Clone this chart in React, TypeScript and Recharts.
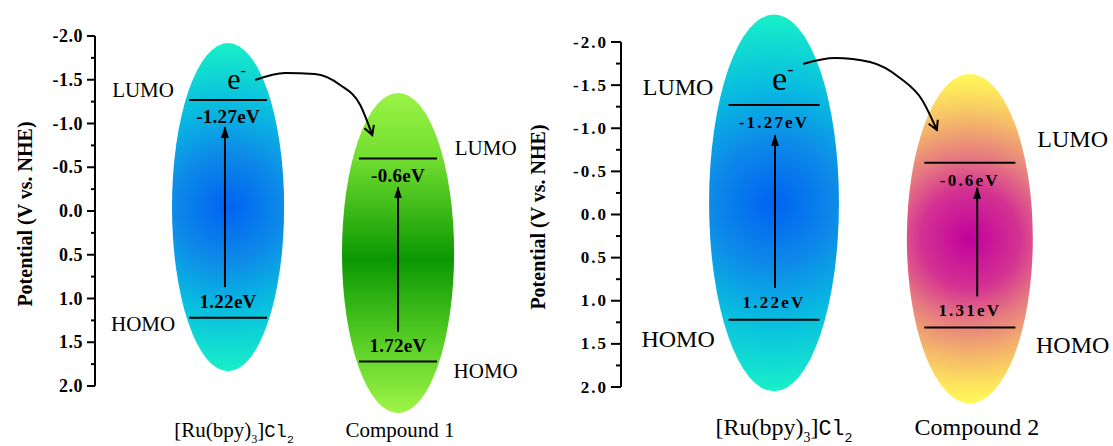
import React from 'react'
import { ComposedChart, XAxis, YAxis, Line, ReferenceArea, ReferenceLine, ReferenceDot } from 'recharts'

const serif = '"Liberation Serif", "Times New Roman", serif'
const mono = '"Liberation Mono", "Courier New", monospace'

// ---- data ----
const yTicks = [-2, -1.75, -1.5, -1.25, -1, -0.75, -0.5, -0.25, 0, 0.25, 0.5, 0.75, 1, 1.25, 1.5, 1.75, 2]
const yLabel = 'Potential (V vs. NHE)'
const levelNames = ['LUMO', 'HOMO']

const leftNames = ['[Ru(bpy)3]Cl2', 'Compound 1']
const leftLumo = [-1.27, -0.6]
const leftHomo = [1.22, 1.72]

const rightNames = ['[Ru(bpy)3]Cl2', 'Compound 2']
const rightLumo = [-1.27, -0.6]
const rightHomo = [1.22, 1.31]

// electron transfer path (x in % of plot width, y in V)
const leftCurveX = [36.0, 42.7, 49.4, 55.1, 59.6, 62.3]
const leftCurveY = [-1.497, -1.577, -1.566, -1.44, -1.211, -0.869]
const rightCurveX = [37.0, 43.5, 50.6, 56.7, 61.2, 64.2]
const rightCurveY = [-1.745, -1.814, -1.768, -1.583, -1.328, -0.98]

const gradients: Record<string, { kind: string; stops: [number, string][] }> = {
  ru: { kind: 'radial', stops: [[0, '#0062f2'], [0.33, '#0d8ae8'], [0.62, '#08bce0'], [1, '#18f0c8']] },
  c1: { kind: 'linear', stops: [[0, '#9af446'], [0.2, '#72de30'], [0.52, '#0b9802'], [0.8, '#5ed228'], [1, '#a0f448']] },
  c2: { kind: 'radial', stops: [[0, '#c2009c'], [0.3, '#d43292'], [0.5, '#e67a80'], [0.72, '#f5b86a'], [0.9, '#fde65c'], [1, '#fff95a']] },
}

const leftCfg = {
  id: 'L', left: 0, width: 540, top: 36, bottom: 60, axisWidth: 95,
  names: leftNames, lumo: leftLumo, homo: leftHomo, curveX: leftCurveX, curveY: leftCurveY,
  grads: ['ru', 'c1'],
  cx: [29.9, 68.1], halfW: [12.6, 12.6], blobTop: [-1.92, -1.35], blobBottom: [1.83, 2.31], levelHalf: 8.76,
  arrowX: [29.2, 68.1], gapBottom: [0.35, 0.34], gapTop: [0.31, 0.33],
  sideX: [10.8, 87.8], lumoDy: [-10, -10.5], homoDy: [6, 9.5],
  tickFont: 18, tickSpacing: 0.5, majorLen: 8, minorLen: 4, tickGap: 4,
  sideFont: 21, evFont: 19, evSpacing: 0.3, evLumoDy: 17, evHomoDy: -16,
  nameFont: 21, nameDy: 51, nameDx: [6, 2],
  eX: 29.7, eY: -1.394, eFont: 30, labelX: 25, labelDy: 3,
}

const rightCfg = {
  id: 'R', left: 470, width: 643, top: 42, bottom: 59, axisWidth: 151,
  names: rightNames, lumo: rightLumo, homo: rightHomo, curveX: rightCurveX, curveY: rightCurveY,
  grads: ['ru', 'c2'],
  cx: [31.1, 70.9], halfW: [13.2, 12.8], blobTop: [-2.32, -1.63], blobBottom: [2.05, 2.19], levelHalf: 9.25,
  arrowX: [31.3, 72.4], gapBottom: [0.37, 0.36], gapTop: [0.35, 0.29],
  sideX: [11.6, 91.8], lumoDy: [-18, -24], homoDy: [19, 18],
  tickFont: 17, tickSpacing: 2, majorLen: 10, minorLen: 5, tickGap: 3,
  sideFont: 24, evFont: 17, evSpacing: 2.2, evLumoDy: 18, evHomoDy: -17,
  nameFont: 24, nameDy: 48, nameDx: [10, 7],
  eX: 30.7, eY: -1.443, eFont: 34, labelX: 68, labelDy: 2.5,
}

type Cfg = typeof leftCfg

const formula = (name: string, size: number) => {
  if (!name.startsWith('[')) return name
  return [
    <tspan key="a">[Ru(bpy)</tspan>,
    <tspan key="b" fontSize={size * 0.58} dy={size * 0.28}>3</tspan>,
    <tspan key="c" dy={-size * 0.28}>]</tspan>,
    <tspan key="d" fontFamily={mono} fontSize={size * 0.9}>Cl</tspan>,
    <tspan key="e" fontFamily={mono} fontSize={size * 0.55} dy={size * 0.28}>2</tspan>,
  ]
}

function Panel({ cfg }: { cfg: Cfg }) {
  const blob = (p: any, i: number) => {
    const g = gradients[cfg.grads[i]]
    const id = `${cfg.id}-grad-${i}`
    const ecx = p.x + p.width / 2
    const ecy = p.y + p.height / 2
    return (
      <g>
        <defs>
          {g.kind === 'radial' ? (
            <radialGradient id={id} gradientUnits="userSpaceOnUse" cx={ecx} cy={ecy} r={p.height / 2}>
              {g.stops.map(([o, c]) => <stop key={o} offset={o} stopColor={c} />)}
            </radialGradient>
          ) : (
            <linearGradient id={id} x1="0" y1="0" x2="0" y2="1">
              {g.stops.map(([o, c]) => <stop key={o} offset={o} stopColor={c} />)}
            </linearGradient>
          )}
        </defs>
        <ellipse cx={ecx} cy={ecy} rx={p.width / 2} ry={p.height / 2} fill={`url(#${id})`} />
      </g>
    )
  }

  const yTick = (p: any) => {
    const v = p.payload.value
    const major = Math.abs(v * 2 - Math.round(v * 2)) < 1e-6
    const len = major ? cfg.majorLen : cfg.minorLen
    return (
      <g>
        <line x1={p.x - len} x2={p.x} y1={p.y} y2={p.y} stroke="#000" strokeWidth={2} />
        {major && (
          <text x={p.x - cfg.majorLen - cfg.tickGap} y={p.y} textAnchor="end" dominantBaseline="central"
            fontFamily={serif} fontWeight="bold" fontSize={cfg.tickFont} letterSpacing={cfg.tickSpacing} fill="#000">
            {v.toFixed(1)}
          </text>
        )}
      </g>
    )
  }

  const xTick = (p: any) => {
    const i = cfg.cx.indexOf(p.payload.value)
    if (i < 0) return <g />
    return (
      <text x={p.x + cfg.nameDx[i]} y={p.y + cfg.nameDy} textAnchor="middle" fontFamily={serif}
        fontSize={cfg.nameFont} fill="#000">
        {formula(cfg.names[i], cfg.nameFont)}
      </text>
    )
  }

  const axisTitle = (p: any) => {
    const vb = p.viewBox
    const x = vb.x + cfg.labelX
    const y = vb.y + vb.height / 2 + cfg.labelDy
    return (
      <text x={x} y={y} transform={`rotate(-90 ${x} ${y})`} textAnchor="middle" dominantBaseline="central"
        fontFamily={serif} fontWeight="bold" fontSize={20} fill="#000">
        {yLabel}
      </text>
    )
  }

  const curve = cfg.curveX.map((x, k) => ({ x, y: cfg.curveY[k] }))

  return (
    <div style={{ position: 'absolute', left: cfg.left, top: 0 }}>
      <ComposedChart width={cfg.width} height={446} margin={{ top: cfg.top, right: 0, bottom: 0, left: 0 }}>
        <XAxis type="number" dataKey="x" domain={[0, 100]} allowDataOverflow ticks={cfg.cx} interval={0}
          height={cfg.bottom} axisLine={false} tickLine={false} tickSize={0} tickMargin={0} tick={xTick} />
        <YAxis type="number" domain={[-2, 2]} reversed allowDataOverflow ticks={yTicks} interval={0}
          width={cfg.axisWidth} axisLine={{ stroke: '#000', strokeWidth: 2 }} tickLine={false}
          tickSize={0} tickMargin={0} tick={yTick} label={{ value: yLabel, content: axisTitle }} />

        {cfg.names.map((n, i) => (
          <ReferenceArea key={`blob-${n}`} x1={cfg.cx[i] - cfg.halfW[i]} x2={cfg.cx[i] + cfg.halfW[i]}
            y1={cfg.blobTop[i]} y2={cfg.blobBottom[i]} ifOverflow="visible" shape={(p: any) => blob(p, i)} />
        ))}

        {cfg.names.map((n, i) =>
          [cfg.lumo[i], cfg.homo[i]].map((v, j) => (
            <ReferenceLine key={`lvl-${i}-${j}`} ifOverflow="visible" stroke="#000" strokeWidth={2}
              segment={[{ x: cfg.cx[i] - cfg.levelHalf, y: v }, { x: cfg.cx[i] + cfg.levelHalf, y: v }]} />
          ))
        )}

        {cfg.names.map((n, i) => (
          <Line key={`arrow-${i}`} type="linear" dataKey="y" isAnimationActive={false} dot={false} activeDot={false}
            stroke="#000" strokeWidth={2} markerEnd="url(#arrowFilled)"
            data={[{ x: cfg.arrowX[i], y: cfg.homo[i] - cfg.gapBottom[i] }, { x: cfg.arrowX[i], y: cfg.lumo[i] + cfg.gapTop[i] }]} />
        ))}

        <Line type="monotone" dataKey="y" data={curve} isAnimationActive={false} dot={false} activeDot={false}
          stroke="#000" strokeWidth={2} fill="none" markerEnd="url(#arrowOpen)" />

        {cfg.names.map((n, i) =>
          [cfg.lumo[i], cfg.homo[i]].map((v, j) => (
            <ReferenceDot key={`ev-${i}-${j}`} x={cfg.cx[i]} y={v} r={1} ifOverflow="visible"
              shape={(p: any) => (
                <text x={p.cx} y={p.cy + (j === 0 ? cfg.evLumoDy : cfg.evHomoDy)} textAnchor="middle"
                  dominantBaseline="central" fontFamily={serif} fontWeight="bold" fontSize={cfg.evFont}
                  letterSpacing={cfg.evSpacing} fill="#000">
                  {`${v}eV`}
                </text>
              )} />
          ))
        )}

        {cfg.names.map((n, i) =>
          [cfg.lumo[i], cfg.homo[i]].map((v, j) => (
            <ReferenceDot key={`side-${i}-${j}`} x={cfg.sideX[i]} y={v} r={1} ifOverflow="visible"
              shape={(p: any) => (
                <text x={p.cx} y={p.cy + (j === 0 ? cfg.lumoDy[i] : cfg.homoDy[i])} textAnchor="middle"
                  dominantBaseline="central" fontFamily={serif} fontSize={cfg.sideFont} fill="#000">
                  {levelNames[j]}
                </text>
              )} />
          ))
        )}

        <ReferenceDot x={cfg.eX} y={cfg.eY} r={1} ifOverflow="visible"
          shape={(p: any) => (
            <text x={p.cx} y={p.cy} fontFamily={serif} fontSize={cfg.eFont} fill="#000">
              <tspan>e</tspan>
              <tspan fontSize={cfg.eFont * 0.55} dy={-cfg.eFont * 0.45}>-</tspan>
            </text>
          )} />
      </ComposedChart>
    </div>
  )
}

export default function App() {
  return (
    <div style={{ position: 'absolute', left: 0, top: 0, width: 1113, height: 446, background: '#fff', overflow: 'hidden' }}>
      <svg width={0} height={0} style={{ position: 'absolute' }}>
        <defs>
          <marker id="arrowFilled" markerUnits="userSpaceOnUse" viewBox="0 0 12 8" markerWidth={12} markerHeight={8}
            refX={11} refY={4} orient="auto">
            <path d="M0,0 L12,4 L0,8 Z" fill="#000" />
          </marker>
          <marker id="arrowOpen" markerUnits="userSpaceOnUse" viewBox="0 0 12 12" markerWidth={12} markerHeight={12}
            refX={10} refY={6} orient="auto" style={{ overflow: 'visible' }}>
            <path d="M1,1 L10,6 L1,11" fill="none" stroke="#000" strokeWidth={2} />
          </marker>
        </defs>
      </svg>
      <Panel cfg={leftCfg} />
      <Panel cfg={rightCfg} />
    </div>
  )
}
